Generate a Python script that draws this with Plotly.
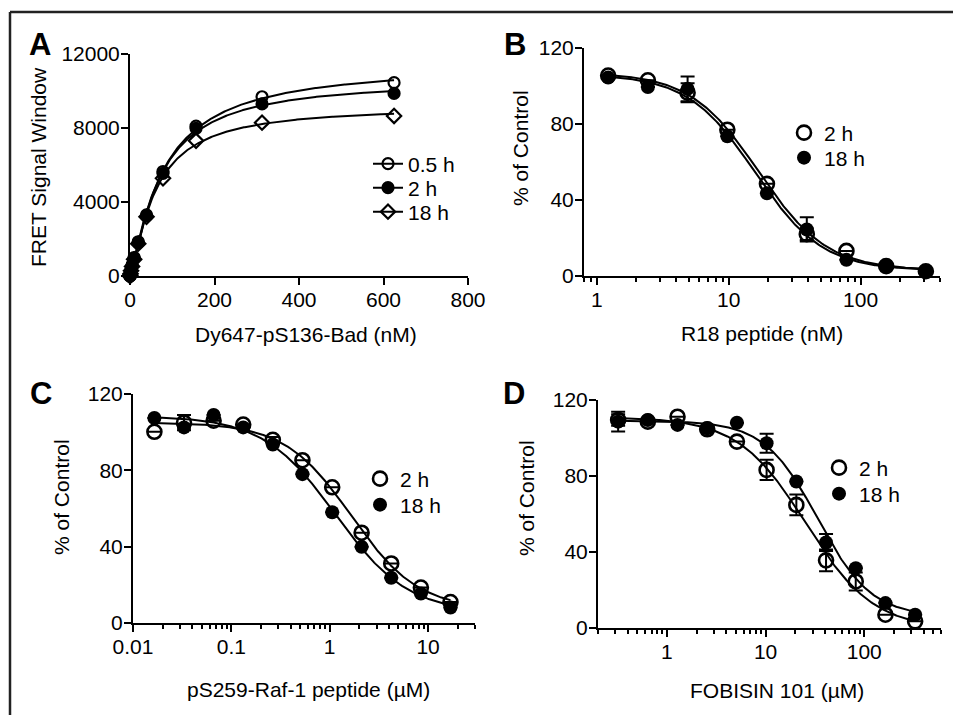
import numpy as np
import plotly.graph_objects as go

W, H = 953, 715

# ---------------- data ----------------
a_conc = [0, 0.61, 1.22, 2.44, 4.88, 9.77, 19.5, 39.1, 78.1, 156.3, 312.5, 625]
a_05h = [0, 60, 150, 320, 600, 1000, 1850, 3300, 5650, 8100, 9690, 10450]
a_2h = [0, 50, 130, 300, 560, 950, 1800, 3250, 5550, 7980, 9300, 9870]
a_18h = [0, 40, 120, 280, 520, 900, 1750, 3200, 5280, 7310, 8290, 8650]

b_conc = [1.22, 2.44, 4.88, 9.77, 19.5, 39.1, 78.1, 156.3, 312.5]
b_2h = [105.5, 103, 96.5, 77, 48.5, 22, 13.2, 5.2, 2.5]
b_2h_err = [0, 0, 5, 0, 0, 3, 0, 0, 0]
b_18h = [104.5, 99.5, 98.5, 73.5, 43.5, 24.5, 8.5, 5.3, 2.3]
b_18h_err = [0, 0, 6.5, 0, 0, 6.4, 0, 0, 0]

c_conc = [0.0165, 0.033, 0.066, 0.132, 0.264, 0.528, 1.06, 2.11, 4.22, 8.45, 16.9]
c_2h = [100.2, 105, 106, 104, 96, 85.3, 71.1, 47.3, 31.2, 18.6, 11.0]
c_2h_err = [0, 4, 0, 0, 1.5, 0, 0, 0, 0, 0, 0]
c_18h = [107.4, 102.5, 109, 102.5, 93.5, 78, 58, 39.9, 23.7, 15.4, 8.1]
c_18h_err = [0, 0, 0, 0, 0, 0, 0, 0, 0, 0, 0]

d_conc = [0.32, 0.64, 1.28, 2.56, 5.12, 10.24, 20.5, 41, 82, 164, 328]
d_2h = [109.5, 108.6, 111.2, 104.6, 98.1, 83.2, 64.8, 35.6, 24.5, 7.0, 3.5]
d_2h_err = [3, 0, 0, 0, 0, 5.3, 5.5, 5.7, 4.7, 0, 0]
d_18h = [108.6, 109.5, 106.9, 105.1, 108, 97.2, 77.1, 45, 31.5, 13.1, 7.0]
d_18h_err = [5.2, 0, 0, 0, 0, 5, 0, 4.5, 0, 0, 0]

a_xticks = [0, 200, 400, 600, 800]
a_yticks = [0, 4000, 8000, 12000]
pct_yticks = [0, 40, 80, 120]
b_xticks = [1, 10, 100]
c_xticks = [0.01, 0.1, 1, 10]
d_xticks = [1, 10, 100]


# ---------------- curve fitting ----------------
def fit_binding(x, y):
    x = np.asarray(x, float); y = np.asarray(y, float)
    lk = np.linspace(0.5, 3.5, 301)[:, None, None]
    h = np.linspace(0.6, 2.5, 96)[None, :, None]
    K = 10 ** lk
    s = x ** h / (K ** h + x ** h)
    bmax = (s * y).sum(-1) / (s * s).sum(-1)
    sse = ((bmax[..., None] * s - y) ** 2).sum(-1)
    i, j = np.unravel_index(np.argmin(sse), sse.shape)
    K0, h0, B0 = K[i, 0, 0], h[0, j, 0], bmax[i, j]
    return lambda xx: B0 * xx ** h0 / (K0 ** h0 + xx ** h0)


def fit_4pl(x, y):
    x = np.asarray(x, float); y = np.asarray(y, float)
    lx = np.log10(x)
    lc = np.linspace(lx.min() - 0.5, lx.max() + 0.5, 400)[:, None, None]
    h = np.linspace(0.5, 3.0, 126)[None, :, None]
    v = 1.0 / (1.0 + 10 ** ((lx - lc) * h))
    u = 1.0 - v
    uu = (u * u).sum(-1); vv = (v * v).sum(-1); uv = (u * v).sum(-1)
    uy = (u * y).sum(-1); vy = (v * y).sum(-1)
    det = uu * vv - uv ** 2
    bot = (vv * uy - uv * vy) / det
    top = (uu * vy - uv * uy) / det
    sse = ((bot[..., None] * u + top[..., None] * v - y) ** 2).sum(-1)
    i, j = np.unravel_index(np.nanargmin(sse), sse.shape)
    lc0, h0, b0, t0 = lc[i, 0, 0], h[0, j, 0], bot[i, j], top[i, j]
    return lambda xx: b0 + (t0 - b0) / (1.0 + 10 ** ((np.log10(xx) - lc0) * h0))


FONT = "Liberation Sans, Arial, Helvetica, sans-serif"
FS = 21
fig = go.Figure()

# ---------------- Panel A ----------------
xa = np.linspace(0, max(a_conc), 300)
a_series = [("0.5 h", a_05h, "circle-open", "legend"),
            ("2 h", a_2h, "circle", "legend5"),
            ("18 h", a_18h, "diamond-open", "legend6")]
for name, ys, sym, leg in a_series:
    f = fit_binding(a_conc, ys)
    fig.add_trace(go.Scatter(x=xa, y=f(xa), mode="lines", line=dict(color="black", width=2),
                             xaxis="x", yaxis="y", showlegend=False, hoverinfo="skip"))
for name, ys, sym, leg in a_series:
    fig.add_trace(go.Scatter(x=a_conc, y=ys, mode="markers", cliponaxis=False,
                             marker=dict(symbol=sym, size=11, color="black", line=dict(width=2.2, color="black")),
                             xaxis="x", yaxis="y", showlegend=False))
for name, ys, sym, leg in a_series:
    fig.add_trace(go.Scatter(x=[None], y=[None], mode="lines+markers", name=name, legend=leg,
                             line=dict(color="black", width=2),
                             marker=dict(symbol=sym, size=11, color="black", line=dict(width=2.2, color="black")),
                             xaxis="x", yaxis="y"))


# ---------------- Panels B, C, D ----------------
def add_dose_panel(xs, y2, e2, y18, e18, xa_name, ya_name, leg2, leg18):
    xx = np.geomspace(min(xs), max(xs), 300)
    for ys in (y2, y18):
        f = fit_4pl(xs, ys)
        fig.add_trace(go.Scatter(x=xx, y=f(xx), mode="lines", line=dict(color="black", width=2),
                                 xaxis=xa_name, yaxis=ya_name, showlegend=False, hoverinfo="skip"))
    fig.add_trace(go.Scatter(x=xs, y=y2, mode="markers", name="2 h", legend=leg2, cliponaxis=False,
                             error_y=dict(type="data", array=e2, color="black", thickness=2, width=7),
                             marker=dict(symbol="circle-open", size=14, color="black", line=dict(width=2.6)),
                             xaxis=xa_name, yaxis=ya_name))
    fig.add_trace(go.Scatter(x=xs, y=y18, mode="markers", name="18 h", legend=leg18, cliponaxis=False,
                             error_y=dict(type="data", array=e18, color="black", thickness=2, width=7),
                             marker=dict(symbol="circle", size=14, color="black"),
                             xaxis=xa_name, yaxis=ya_name))


add_dose_panel(b_conc, b_2h, b_2h_err, b_18h, b_18h_err, "x2", "y2", "legend2", "legend7")
add_dose_panel(c_conc, c_2h, c_2h_err, c_18h, c_18h_err, "x3", "y3", "legend3", "legend8")
add_dose_panel(d_conc, d_2h, d_2h_err, d_18h, d_18h_err, "x4", "y4", "legend4", "legend9")


def minor_vals(lo_dec, hi_dec, vmin, vmax):
    out = []
    for d in range(lo_dec, hi_dec + 1):
        for k in range(2, 10):
            v = k * 10 ** d
            if vmin * 0.999 <= v <= vmax * 1.001:
                out.append(v)
    return out


def px_dom_x(a, b):
    return [a / W, b / W]


def px_dom_y(top, bot):
    return [1 - bot / H, 1 - top / H]


axis_common = dict(showline=True, linewidth=2, linecolor="black", ticks="outside", ticklen=7,
                   tickwidth=2, tickcolor="black", showgrid=False, zeroline=False,
                   tickfont=dict(family=FONT, size=FS, color="black"), automargin=False,
                   ticklabelstandoff=-3)

b_rng = [np.log10(0.8), np.log10(400)]
c_rng = [-2, np.log10(30)]
d_rng = [np.log10(0.2), np.log10(600)]

minor_common = dict(ticks="outside", ticklen=4, tickwidth=1.5, tickcolor="black", showgrid=False)

fig.update_layout(
    xaxis=dict(domain=px_dom_x(130, 468), range=[0, 800], tickvals=a_xticks,
               ticktext=[str(v) for v in a_xticks], anchor="y", **axis_common),
    yaxis=dict(domain=px_dom_y(54, 276), range=[0, 12000], tickvals=a_yticks,
               ticktext=[str(v) for v in a_yticks], anchor="x", **axis_common),
    xaxis2=dict(domain=px_dom_x(584, 940), type="log", range=b_rng, tickvals=b_xticks, ticktext=[str(v) for v in b_xticks],
                minor=dict(tickvals=minor_vals(-1, 2, 0.8, 400), **minor_common), anchor="y2", **axis_common),
    yaxis2=dict(domain=px_dom_y(48, 276), range=[0, 120], tickvals=pct_yticks, anchor="x2", **axis_common),
    xaxis3=dict(domain=px_dom_x(133, 475), type="log", range=c_rng, tickvals=c_xticks, ticktext=[str(v) for v in c_xticks],
                minor=dict(tickvals=minor_vals(-2, 1, 0.01, 30), **minor_common), anchor="y3", **axis_common),
    yaxis3=dict(domain=px_dom_y(394, 623), range=[0, 120], tickvals=pct_yticks, anchor="x3", **axis_common),
    xaxis4=dict(domain=px_dom_x(598, 941), type="log", range=d_rng, tickvals=d_xticks, ticktext=[str(v) for v in d_xticks],
                minor=dict(tickvals=minor_vals(-1, 2, 0.2, 600), **minor_common), anchor="y4", **axis_common),
    yaxis4=dict(domain=px_dom_y(400, 628), range=[0, 120], tickvals=pct_yticks, anchor="x4", **axis_common),
)

leg_common = dict(font=dict(family=FONT, size=FS, color="black"), bgcolor="rgba(0,0,0,0)",
                  xanchor="left", yanchor="middle", itemsizing="trace")
# one legend per row so each row sits where the reference has it
leg_pos = {
    "legend": (368, 164), "legend5": (368, 188), "legend6": (368, 212),
    "legend2": (784, 133), "legend7": (784, 158),
    "legend3": (360, 479), "legend8": (360, 505),
    "legend4": (819, 468), "legend9": (819, 494),
}
fig.update_layout(**{k: dict(x=x / W, y=1 - y / H, **leg_common) for k, (x, y) in leg_pos.items()})

ann = []
# panel letters
for txt, x, y in [("A", 40, 44), ("B", 515, 44), ("C", 41, 393), ("D", 514, 393)]:
    ann.append(dict(text="<b>%s</b>" % txt, x=x / W, y=1 - y / H, xref="paper", yref="paper",
                    showarrow=False, xanchor="center", yanchor="middle",
                    font=dict(family=FONT, size=31, color="black")))
# axis titles
for txt, x, y, ang in [
    ("Dy647-pS136-Bad (nM)", 306, 334, 0),
    ("R18 peptide (nM)", 762, 333, 0),
    ("pS259-Raf-1 peptide (\u00b5M)", 308, 689, 0),
    ("FOBISIN 101 (\u00b5M)", 777, 690, 0),
    ("FRET Signal Window", 38, 167, -90),
    ("% of Control", 520, 148, -90),
    ("% of Control", 61, 497, -90),
    ("% of Control", 526, 498, -90),
]:
    ann.append(dict(text=txt, x=x / W, y=1 - y / H, xref="paper", yref="paper", textangle=ang,
                    showarrow=False, xanchor="center", yanchor="middle",
                    font=dict(family=FONT, size=FS, color="black")))

shapes = [
    dict(type="line", xref="paper", yref="paper", x0=10 / W, x1=1, y0=1 - 12 / H, y1=1 - 12 / H,
         line=dict(color="#222", width=2.5)),
    dict(type="line", xref="paper", yref="paper", x0=10 / W, x1=10 / W, y0=0, y1=1 - 12 / H,
         line=dict(color="#222", width=2.5)),
]

fig.update_layout(
    width=W, height=H, template="none",
    margin=dict(l=0, r=0, t=0, b=0, pad=0),
    paper_bgcolor="white", plot_bgcolor="white",
    font=dict(family=FONT, size=FS, color="black"),
    annotations=ann, shapes=shapes,
)

fig.write_html("out.html", config={"displayModeBar": False},
               post_script="document.body.style.margin='0';document.body.style.overflow='hidden';")
